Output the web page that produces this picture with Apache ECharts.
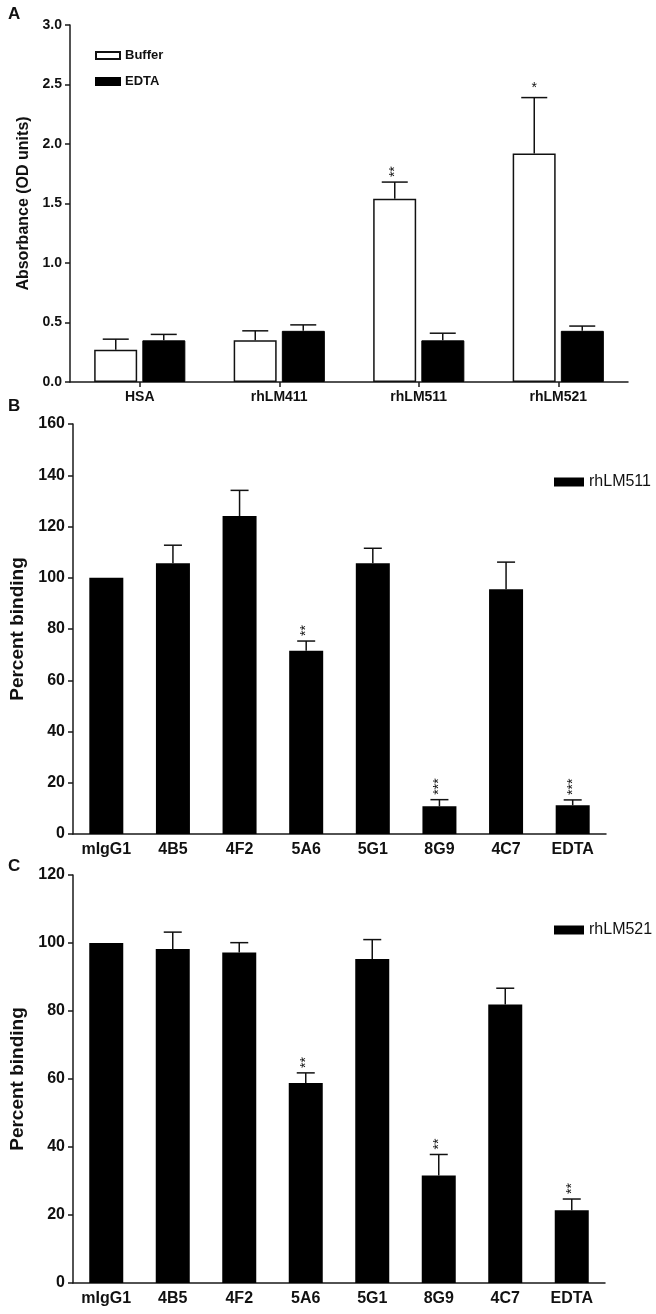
<!DOCTYPE html>
<html>
<head>
<meta charset="utf-8">
<script src="https://cdn.jsdelivr.net/npm/echarts@6/dist/echarts.min.js"></script>
<style>
html,body{margin:0;padding:0;background:#fff;}
#chart{width:656px;height:1314px;}
</style>
</head>
<body>
<div id="chart"></div>
<script>
// ---- Panel A data ----
const catsA = ['HSA', 'rhLM411', 'rhLM511', 'rhLM521'];
const bufferVals = [0.27, 0.35, 1.54, 1.92];
const bufferErrTop = [0.36, 0.43, 1.68, 2.39];
const bufferStars = ['', '', '**', '*'];
const edtaVals = [0.35, 0.43, 0.35, 0.43];
const edtaErrTop = [0.40, 0.48, 0.41, 0.47];
const edtaStars = ['', '', '', ''];
const ticksA = [0, 0.5, 1.0, 1.5, 2.0, 2.5, 3.0];

// ---- Panel B data ----
const catsB = ['mIgG1', '4B5', '4F2', '5A6', '5G1', '8G9', '4C7', 'EDTA'];
const lm511Vals = [100, 105.7, 124.1, 71.5, 105.7, 10.8, 95.5, 11.2];
const lm511ErrTop = [100, 112.7, 134.1, 75.3, 111.5, 13.4, 106.1, 13.3];
const lm511Stars = ['', '', '', '**', '', '***', '', '***'];
const ticksB = [0, 20, 40, 60, 80, 100, 120, 140, 160];

// ---- Panel C data ----
const catsC = ['mIgG1', '4B5', '4F2', '5A6', '5G1', '8G9', '4C7', 'EDTA'];
const lm521Vals = [100, 98.2, 97.2, 58.8, 95.3, 31.6, 81.9, 21.4];
const lm521ErrTop = [100, 103.2, 100.1, 61.8, 101, 37.8, 86.7, 24.7];
const lm521Stars = ['', '', '', '**', '', '**', '', '**'];
const ticksC = [0, 20, 40, 60, 80, 100, 120];

const FONT = '"Liberation Sans", Arial, sans-serif';
const AXC = '#1a1a1a';

function errData(vals, tops, stars) {
  return vals.map((v, i) => [i, v, tops[i], stars[i]]);
}

function errSeries(name, xi, yi, vals, tops, stars, offset, halfCap) {
  return {
    type: 'custom',
    name: name,
    xAxisIndex: xi, yAxisIndex: yi,
    z: 10,
    silent: true,
    encode: { x: 0, y: [1, 2] },
    data: errData(vals, tops, stars),
    renderItem: function (params, api) {
      const idx = params.dataIndex;
      const x = api.value(0);
      const p1 = api.coord([x, vals[idx]]);
      const p2 = api.coord([x, tops[idx]]);
      const cx = p1[0] + offset;
      const children = [];
      if (tops[idx] > vals[idx]) {
        children.push({
          type: 'line',
          shape: { x1: cx, y1: p1[1], x2: cx, y2: p2[1] },
          style: { stroke: '#111', lineWidth: 1.5 }
        });
        children.push({
          type: 'line',
          shape: { x1: cx - halfCap, y1: p2[1], x2: cx + halfCap, y2: p2[1] },
          style: { stroke: '#111', lineWidth: 1.5 }
        });
      }
      const s = stars[idx];
      if (s) {
        if (s.length > 1) {
          children.push({
            type: 'text',
            x: cx, y: p2[1] - 5,
            rotation: Math.PI / 2,
            style: { text: s, font: '14px ' + FONT, fill: '#111', align: 'left', verticalAlign: 'middle' }
          });
        } else {
          children.push({
            type: 'text',
            x: cx, y: p2[1] - 2,
            style: { text: s, font: '14px ' + FONT, fill: '#111', align: 'center', verticalAlign: 'bottom' }
          });
        }
      }
      return { type: 'group', children: children };
    }
  };
}

function yAxisCfg(gi, min, max, interval, name, nameSize, nameGap, fmt, labelSize) {
  return {
    type: 'value', gridIndex: gi, min: min, max: max, interval: interval,
    name: name, nameLocation: 'middle', nameRotate: 90, nameGap: nameGap,
    nameTextStyle: { fontFamily: FONT, fontWeight: 'bold', fontSize: nameSize, color: '#111' },
    axisLine: { show: true, lineStyle: { color: AXC, width: 1.5 } },
    axisTick: { show: true, length: 5, lineStyle: { color: AXC, width: 1.5 } },
    axisLabel: { fontFamily: FONT, fontWeight: 'bold', fontSize: labelSize, color: '#111', margin: 8, formatter: fmt },
    splitLine: { show: false }
  };
}

function xAxisCfg(gi, cats, ticks, labelSize) {
  return {
    type: 'category', gridIndex: gi, data: cats,
    axisLine: { show: true, lineStyle: { color: AXC, width: 1.5 } },
    axisTick: { show: ticks, alignWithLabel: true, length: 5, lineStyle: { color: AXC, width: 1.5 } },
    axisLabel: { fontFamily: FONT, fontWeight: 'bold', fontSize: labelSize, color: '#111', margin: 8 },
    splitLine: { show: false }
  };
}

const chart = echarts.init(document.getElementById('chart'), null, { renderer: 'canvas' });

const option = {
  backgroundColor: '#fff',
  animation: false,
  grid: [
    { left: 70, top: 25, width: 558, height: 357 },
    { left: 70, top: 424, width: 536, height: 410 },
    { left: 70, top: 875, width: 535, height: 408 }
  ],
  legend: [
    {
      data: ['Buffer', 'EDTA'], orient: 'vertical', left: 90, top: 44,
      icon: 'rect', itemWidth: 24, itemHeight: 7, itemGap: 13,
      textStyle: { fontFamily: FONT, fontWeight: 'bold', fontSize: 13, color: '#111' },
      selectedMode: false
    },
    {
      data: ['rhLM511'], left: 549, top: 469, icon: 'rect',
      itemWidth: 30, itemHeight: 9, itemGap: 5,
      textStyle: { fontFamily: FONT, fontSize: 16, color: '#111' },
      selectedMode: false
    },
    {
      data: ['rhLM521'], left: 549, top: 917, icon: 'rect',
      itemWidth: 30, itemHeight: 9, itemGap: 5,
      textStyle: { fontFamily: FONT, fontSize: 16, color: '#111' },
      selectedMode: false
    }
  ],
  xAxis: [
    xAxisCfg(0, catsA, true, 14),
    xAxisCfg(1, catsB, false, 16),
    xAxisCfg(2, catsC, false, 16)
  ],
  yAxis: [
    yAxisCfg(0, ticksA[0], ticksA[ticksA.length - 1], 0.5, 'Absorbance (OD units)', 16, 28, v => v.toFixed(1), 14),
    yAxisCfg(1, ticksB[0], ticksB[ticksB.length - 1], 20, 'Percent binding', 19, 46, v => String(v), 16),
    yAxisCfg(2, ticksC[0], ticksC[ticksC.length - 1], 20, 'Percent binding', 19, 46, v => String(v), 16)
  ],
  graphic: [
    { type: 'text', left: 8, top: 6, style: { text: 'A', font: 'bold 17px ' + FONT, fill: '#111' } },
    { type: 'text', left: 8, top: 398, style: { text: 'B', font: 'bold 17px ' + FONT, fill: '#111' } },
    { type: 'text', left: 8, top: 858, style: { text: 'C', font: 'bold 17px ' + FONT, fill: '#111' } }
  ],
  series: [
    {
      type: 'bar', name: 'Buffer', xAxisIndex: 0, yAxisIndex: 0, data: bufferVals,
      barWidth: 43, barGap: '12%',
      itemStyle: { color: '#fff', borderColor: '#111', borderWidth: 1.5 }
    },
    {
      type: 'bar', name: 'EDTA', xAxisIndex: 0, yAxisIndex: 0, data: edtaVals,
      barWidth: 43, barGap: '12%',
      itemStyle: { color: '#000', borderColor: '#000', borderWidth: 1 }
    },
    errSeries('errBuffer', 0, 0, bufferVals, bufferErrTop, bufferStars, -24, 13),
    errSeries('errEdta', 0, 0, edtaVals, edtaErrTop, edtaStars, 24, 13),
    {
      type: 'bar', name: 'rhLM511', xAxisIndex: 1, yAxisIndex: 1, data: lm511Vals,
      barWidth: 34, itemStyle: { color: '#000' }
    },
    errSeries('err511', 1, 1, lm511Vals, lm511ErrTop, lm511Stars, 0, 9),
    {
      type: 'bar', name: 'rhLM521', xAxisIndex: 2, yAxisIndex: 2, data: lm521Vals,
      barWidth: 34, itemStyle: { color: '#000' }
    },
    errSeries('err521', 2, 2, lm521Vals, lm521ErrTop, lm521Stars, 0, 9)
  ]
};
chart.setOption(option);
</script>
</body>
</html>
